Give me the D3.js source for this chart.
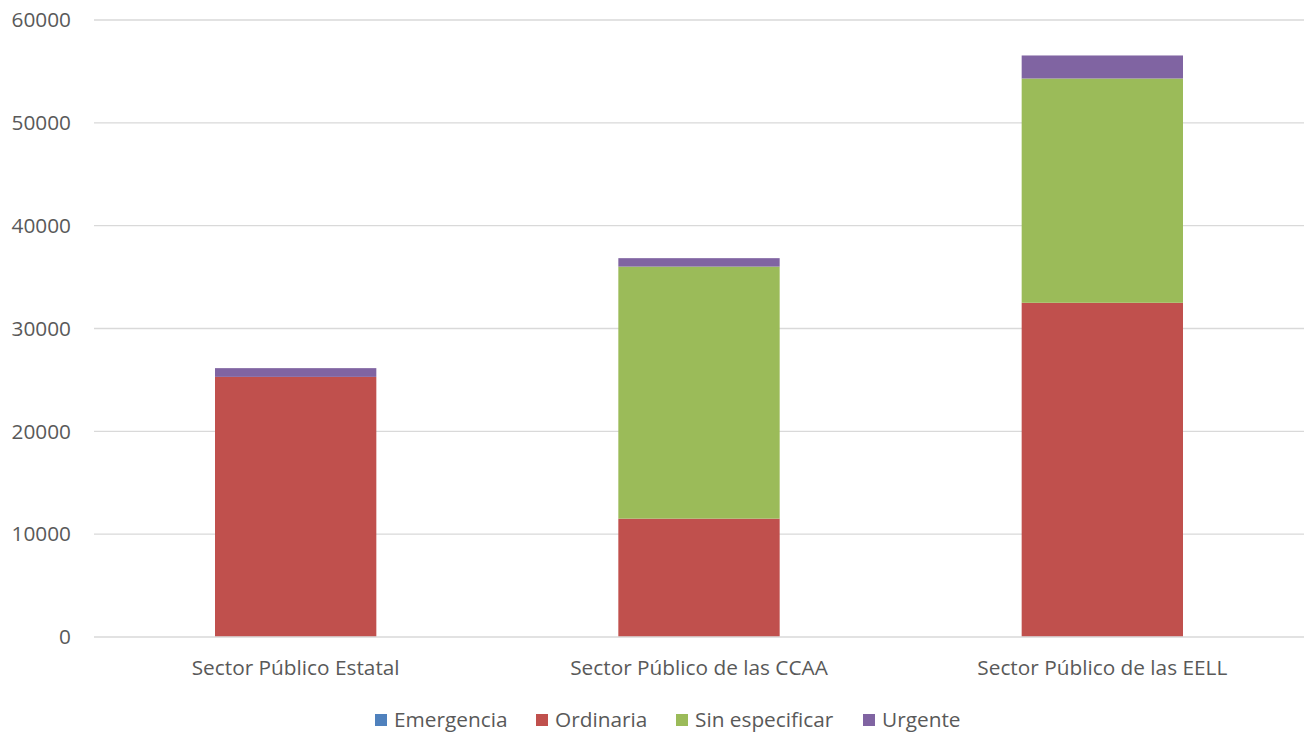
<!DOCTYPE html>
<html lang="es">
  <head>
    <meta charset="utf-8" />
    <title>Sector Público</title>
    <script type="text/javascript" src="https://cdn.jsdelivr.net/npm/d3@7"></script>
    <style type="text/css">
body { margin: 0; background: white; }
svg text { font-family: "Open Sans", sans-serif; fill: #595959; }
    </style>
  </head>
  <body>
    <script type="text/javascript">
// datos
var categories = ["Sector Público Estatal", "Sector Público de las CCAA", "Sector Público de las EELL"];
var seriesNames = ["Emergencia", "Ordinaria", "Sin especificar", "Urgente"];
var emergencia = [15, 10, 20];
var ordinaria = [25280, 11500, 32480];
var sinEspecificar = [0, 24510, 21810];
var urgente = [850, 820, 2240];
var yTicks = [0, 10000, 20000, 30000, 40000, 50000, 60000];
var colors = ["#4f81bd", "#c0504d", "#9bbb59", "#8064a2"];

var w = 1309, h = 733;
var pad = { left: 94, right: 5, top: 20, bottom: 96 };
var fontSize = "20.8px";

var rows = categories.map(function(c, i) {
  return { cat: c, "Emergencia": emergencia[i], "Ordinaria": ordinaria[i],
           "Sin especificar": sinEspecificar[i], "Urgente": urgente[i] };
});
var stacked = d3.stack().keys(seriesNames)(rows);

var svg = d3.select("body").append("svg").attr("width", w).attr("height", h);

var x = d3.scaleBand().domain(categories)
          .range([pad.left, w - pad.right])
          .paddingInner(0.6).paddingOuter(0.3);
var y = d3.scaleLinear().domain([0, 60000]).range([h - pad.bottom, pad.top]);

// gridlines
svg.append("g").selectAll("line")
   .data(yTicks.slice(1))
   .enter().append("line")
   .attr("x1", pad.left).attr("x2", w - pad.right)
   .attr("y1", function(d) { return y(d); })
   .attr("y2", function(d) { return y(d); })
   .attr("stroke", "#d9d9d9").attr("stroke-width", 1.3);

// y labels
svg.append("g").selectAll("text")
   .data(yTicks).enter().append("text")
   .attr("x", 71).attr("y", function(d) { return y(d); })
   .attr("dy", "0.35em").attr("text-anchor", "end")
   .attr("font-size", fontSize)
   .text(function(d) { return d; });

// bars
svg.append("g").selectAll("g")
   .data(stacked).enter().append("g")
   .attr("fill", function(d, i) { return colors[i]; })
   .selectAll("rect")
   .data(function(d) { return d; })
   .enter().append("rect")
   .attr("x", function(d) { return x(d.data.cat); })
   .attr("width", x.bandwidth())
   .attr("y", function(d) { return y(d[1]); })
   .attr("height", function(d) { return y(d[0]) - y(d[1]); });

// x axis line
svg.append("line")
   .attr("x1", pad.left).attr("x2", w - pad.right)
   .attr("y1", y(0)).attr("y2", y(0))
   .attr("stroke", "#d9d9d9").attr("stroke-width", 1.3);

// category labels
svg.append("g").selectAll("text")
   .data(categories).enter().append("text")
   .attr("x", function(d) { return x(d) + x.bandwidth() / 2; })
   .attr("y", 668).attr("dy", "0.35em")
   .attr("text-anchor", "middle").attr("font-size", fontSize)
   .text(function(d) { return d; });

// legend
var legendX = [375, 536, 676, 863];
var legend = svg.append("g").selectAll("g")
   .data(seriesNames).enter().append("g")
   .attr("transform", function(d, i) { return "translate(" + legendX[i] + ",720)"; });
legend.append("rect")
   .attr("x", 0).attr("y", -6).attr("width", 12).attr("height", 12)
   .attr("fill", function(d, i) { return colors[i]; });
legend.append("text")
   .attr("x", 19).attr("dy", "0.35em").attr("font-size", fontSize)
   .text(function(d) { return d; });
    </script>
  </body>
</html>
